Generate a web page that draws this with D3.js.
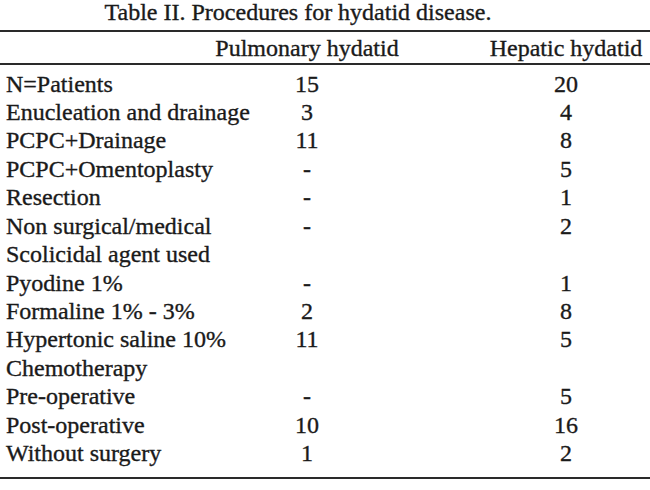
<!DOCTYPE html>
<html>
<head>
<meta charset="utf-8">
<script src="https://cdn.jsdelivr.net/npm/d3@7"></script>
<style>
  body { margin: 0; background: #fff; }
  text { stroke: #1a1a1a; stroke-width: 0.35px; }
</style>
</head>
<body>
<div id="chart"></div>
<script>
// table content
const title = 'Table II. Procedures for hydatid disease.';
const columns = ['Pulmonary hydatid', 'Hepatic hydatid'];
const rows = [
  'N=Patients',
  'Enucleation and drainage',
  'PCPC+Drainage',
  'PCPC+Omentoplasty',
  'Resection',
  'Non surgical/medical',
  'Scolicidal agent used',
  'Pyodine 1%',
  'Formaline 1% - 3%',
  'Hypertonic saline 10%',
  'Chemotherapy',
  'Pre-operative',
  'Post-operative',
  'Without surgery',
];
const pulmonary = ['15', '3', '11', '-', '-', '-', '', '-', '2', '11', '', '-', '10', '1'];
const hepatic = ['20', '4', '8', '5', '1', '2', '', '1', '8', '5', '', '5', '16', '2'];

// visual parameters
const width = 650;
const height = 490;
const fontFamily = '"Liberation Serif", "Times New Roman", serif';
const fontSize = 24;
const textFill = '#1a1a1a';
const ruleStroke = '#2a2a2a';

const svg = d3.select('#chart')
  .append('svg')
  .attr('width', width)
  .attr('height', height);

// row positions
const y = d3.scaleBand()
  .domain(rows)
  .range([69, 467]);

// column positions (centre of each value column)
const x = d3.scaleOrdinal()
  .domain(columns)
  .range([307, 566]);

const labelX = 6;

// title
svg.append('text')
  .attr('x', 298)
  .attr('y', 12)
  .attr('dy', '0.35em')
  .attr('text-anchor', 'middle')
  .attr('font-family', fontFamily)
  .attr('font-size', fontSize)
  .attr('fill', textFill)
  .text(title);

// horizontal rules
const rules = [31, 64, 478];
svg.selectAll('line.rule')
  .data(rules)
  .join('line')
  .attr('class', 'rule')
  .attr('x1', 0)
  .attr('x2', width)
  .attr('y1', (d) => d)
  .attr('y2', (d) => d)
  .attr('stroke', ruleStroke)
  .attr('stroke-width', 2);

// column headers
svg.selectAll('text.head')
  .data(columns)
  .join('text')
  .attr('class', 'head')
  .attr('x', (d) => x(d))
  .attr('y', 48)
  .attr('dy', '0.35em')
  .attr('text-anchor', 'middle')
  .attr('font-family', fontFamily)
  .attr('font-size', fontSize)
  .attr('fill', textFill)
  .text((d) => d);

// row labels
svg.selectAll('text.label')
  .data(rows)
  .join('text')
  .attr('class', 'label')
  .attr('x', labelX)
  .attr('y', (d) => y(d) + y.bandwidth() / 2)
  .attr('dy', '0.35em')
  .attr('font-family', fontFamily)
  .attr('font-size', fontSize)
  .attr('fill', textFill)
  .text((d) => d);

// cell values
const cells = rows.flatMap((r, i) => [
  { row: r, col: columns[0], value: pulmonary[i] },
  { row: r, col: columns[1], value: hepatic[i] },
]);

svg.selectAll('text.cell')
  .data(cells.filter((d) => d.value !== ''))
  .join('text')
  .attr('class', 'cell')
  .attr('x', (d) => x(d.col))
  .attr('y', (d) => y(d.row) + y.bandwidth() / 2)
  .attr('dy', '0.35em')
  .attr('text-anchor', 'middle')
  .attr('font-family', fontFamily)
  .attr('font-size', fontSize)
  .attr('fill', textFill)
  .text((d) => d.value);
</script>
</body>
</html>
